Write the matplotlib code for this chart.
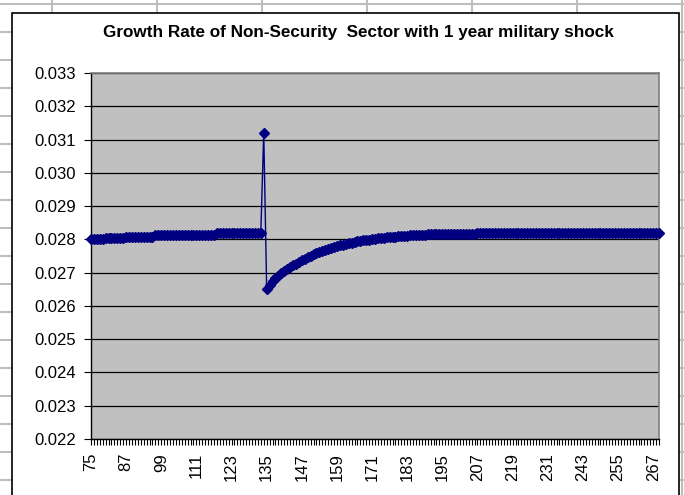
import matplotlib
matplotlib.use('Agg')
import matplotlib.pyplot as plt
from matplotlib.patches import Rectangle
import numpy as np

plt.rcParams['font.family'] = ['Liberation Sans', 'DejaVu Sans']

# periods 75 .. 269
periods = np.arange(75, 270)

# growth rate
growth_pre = [
    0.02800, 0.02800, 0.02800, 0.02800, 0.02800,
    0.02803, 0.02803, 0.02803, 0.02803, 0.02803, 0.02803, 0.02803,
    0.02808, 0.02808, 0.02808, 0.02808, 0.02808, 0.02808, 0.02808, 0.02808, 0.02808, 0.02808,
    0.02813, 0.02813, 0.02813, 0.02813, 0.02813, 0.02813, 0.02813, 0.02813, 0.02813, 0.02813,
    0.02813, 0.02813, 0.02813, 0.02813, 0.02813, 0.02813, 0.02813, 0.02813, 0.02813, 0.02813,
    0.02813,
    0.02820, 0.02820, 0.02820, 0.02820, 0.02820, 0.02820, 0.02820, 0.02820,
    0.02820, 0.02820, 0.02820, 0.02820, 0.02820, 0.02820, 0.02820, 0.02820,
]
growth_shock = [0.03120]
growth_post = [
    0.02651, 0.02664, 0.02674, 0.02683, 0.02691, 0.02698, 0.02705, 0.02711, 0.02717, 0.02722,
    0.02727, 0.02732, 0.02737, 0.02742, 0.02746, 0.02751, 0.02755, 0.02758, 0.02762, 0.02765,
    0.02769, 0.02772, 0.02774, 0.02777, 0.02780, 0.02782, 0.02784, 0.02786, 0.02788, 0.02790,
    0.02792, 0.02794, 0.02795, 0.02797, 0.02798, 0.02799, 0.02801, 0.02802, 0.02803, 0.02804,
    0.02805, 0.02806, 0.02807, 0.02807, 0.02808, 0.02809, 0.02810, 0.02810, 0.02811,
    0.02812, 0.02812, 0.02812, 0.02812, 0.02812, 0.02812,
    0.02816, 0.02816, 0.02816, 0.02816, 0.02816, 0.02816, 0.02816, 0.02816, 0.02816,
    0.02816, 0.02816, 0.02816, 0.02816, 0.02816, 0.02816, 0.02816, 0.02816,
    0.02820, 0.02820, 0.02820, 0.02820, 0.02820, 0.02820, 0.02820, 0.02820, 0.02820, 0.02820,
    0.02820, 0.02820, 0.02820, 0.02820, 0.02820, 0.02820, 0.02820, 0.02820, 0.02820, 0.02820,
    0.02820, 0.02820, 0.02820, 0.02820, 0.02820, 0.02820, 0.02820, 0.02820, 0.02820, 0.02820,
    0.02820, 0.02820, 0.02820, 0.02820, 0.02820, 0.02820, 0.02820, 0.02820, 0.02820, 0.02820,
    0.02820, 0.02820, 0.02820, 0.02820, 0.02820, 0.02820, 0.02820, 0.02820, 0.02820, 0.02820,
    0.02820, 0.02820, 0.02820, 0.02820, 0.02820, 0.02820, 0.02820, 0.02820, 0.02820, 0.02820,
    0.02820, 0.02820, 0.02820,
]
growth = np.array(growth_pre + growth_shock + growth_post)

yticks = [0.022, 0.023, 0.024, 0.025, 0.026, 0.027, 0.028, 0.029, 0.030, 0.031, 0.032, 0.033]
xtick_labels = [75, 87, 99, 111, 123, 135, 147, 159, 171, 183, 195, 207, 219, 231, 243, 255, 267]
title = 'Growth Rate of Non-Security  Sector with 1 year military shock'

W, H = 684, 495
fig = plt.figure(figsize=(W / 100, H / 100), dpi=100)
fig.patch.set_facecolor('white')

# spreadsheet behind the chart
bg = fig.add_axes([0, 0, 1, 1])
bg.set_xlim(0, W)
bg.set_ylim(H, 0)
bg.axis('off')
for x in [52, 157, 262, 367, 472, 577, 682]:
    bg.axvline(x, color='#BEBEBE', lw=1.5)
for y in range(4, H, 28):
    bg.axhline(y, color='#BEBEBE', lw=1.5)
bg.add_patch(Rectangle((12, 13), 667, 500, facecolor='white', edgecolor='black', lw=1.2, zorder=5))
bg.text(358, 33, title, ha='center', va='center', fontsize=12.3, fontweight='bold', zorder=6)

# plot area
left, right, top, bottom = 91, 659, 73, 439
ax = fig.add_axes([left / W, 1 - bottom / H, (right - left) / W, (bottom - top) / H])
ax.set_facecolor('#C0C0C0')
ax.plot(periods, growth, color='#000080', lw=1.0, marker='D', ms=5.5, mfc='#000080', mec='#000080',
        clip_on=False, zorder=3)

ax.set_xlim(75, 269)
ax.set_ylim(0.022, 0.033)
ax.set_yticks(yticks)
ax.set_yticklabels([f'{v:.3f}' for v in yticks])
ax.yaxis.grid(True, color='black', lw=0.9)
ax.set_axisbelow(True)

ax.set_xticks(xtick_labels)
ax.set_xticklabels([str(v) for v in xtick_labels], rotation=90)
ax.set_xticks(periods, minor=True)
ax.tick_params(axis='x', which='both', direction='out', length=4, width=0.8, pad=6, labelsize=12)
ax.tick_params(axis='y', direction='out', length=5, width=0.8, pad=6, labelsize=12)

for s in ['left', 'bottom']:
    ax.spines[s].set_color('black')
    ax.spines[s].set_linewidth(1.0)
for s in ['top', 'right']:
    ax.spines[s].set_color('#808080')
    ax.spines[s].set_linewidth(1.2)

fig.savefig('out.png', dpi=100)
